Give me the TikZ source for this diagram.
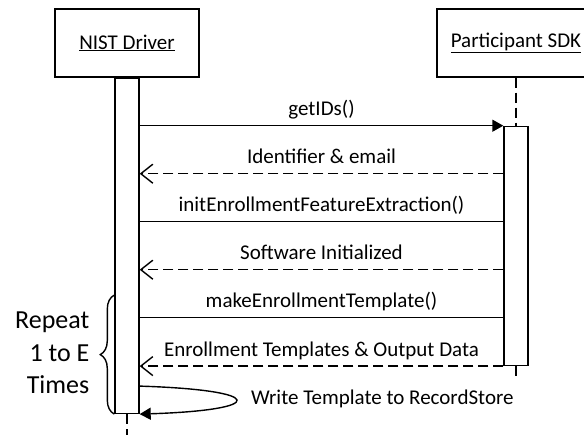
\documentclass[tikz,border=0pt]{standalone}
\usepackage{fontspec}
\setmainfont{Carlito}
\usetikzlibrary{positioning,arrows.meta,decorations.pathreplacing}

\begin{document}
\begin{tikzpicture}[x=1pt,y=-1pt,line width=1.4pt,
    font=\fontsize{21}{25}\selectfont,
    obj/.style={draw,minimum height=68pt,inner sep=0pt},
    bar/.style={draw,fill=white,minimum width=24pt,inner sep=0pt},
    life/.style={dash pattern=on 10pt off 5pt},
    call/.style={-{Triangle[length=11pt,width=12pt]}},
    ret/.style={dash pattern=on 10pt off 5pt,-{Straight Barb[length=12pt,width=19pt]}},
    msg/.style={anchor=base,yshift=10pt}]

    \useasboundingbox (0,0) rectangle (584,434);
    \clip (0,0) rectangle (584,434);

    % Objekte
    \node[obj, minimum width=144pt] (drv) at (127,43) {\underline{NIST Driver}};
    \node[obj, minimum width=158pt] (sdk) at (516,43) {\underline{Participant SDK}};
    \node[bar, minimum height=335pt, below=0pt of drv] (drvbar) {};
    \node[bar, minimum height=239pt, below=48pt of sdk] (sdkbar) {};

    % Lebenslinien
    \coordinate[below=22pt of drvbar] (drvend);
    \coordinate[below=10pt of sdkbar] (sdkend);
    \draw[life] (drvbar.south) -- (drvend);
    \draw[life] (sdk.south) -- (sdkbar.north);
    \draw[life] (sdkbar.south) -- (sdkend);

    % Nachrichten
    \coordinate (m1) at (drvbar.east |- sdkbar.north);
    \coordinate (m2) at ([yshift=-48pt]m1);
    \coordinate (m3) at ([yshift=-96pt]m1);
    \coordinate (m4) at ([yshift=-144pt]m1);
    \coordinate (m5) at ([yshift=-192pt]m1);
    \coordinate (m6) at (drvbar.east |- sdkbar.south);
    \coordinate (s1) at ([yshift=-20pt]m6);

    \draw[call] (m1) -- node[msg] {getIDs()} (m1 -| sdkbar.west);
    \draw[ret] (m2 -| sdkbar.west) -- node[msg] {Identifier \& email} (m2);
    \draw (m3) -- node[msg] {initEnrollmentFeatureExtraction()} (m3 -| sdkbar.west);
    \draw[ret] (m4 -| sdkbar.west) -- node[msg] {Software Initialized} (m4);
    \draw (m5) -- node[msg] {makeEnrollmentTemplate()} (m5 -| sdkbar.west);
    \draw[ret] (m6 -| sdkbar.west) -- node[msg] {Enrollment Templates \& Output Data} (m6);

    % Schleife
    \draw[call] (s1) .. controls +(128,4) and +(128,-4) .. (drvbar.south east);
    \node[anchor=base west] (write) at (247,404) {Write Template to RecordStore};

    \draw[decorate, decoration={brace, amplitude=14pt}]
        (drvbar.south west) -- ([yshift=119pt]drvbar.south west);
    \node[anchor=east, align=right, inner sep=0pt,
          font=\fontsize{26}{32.5}\selectfont] (rep) at (90,353) {Repeat\\1 to E\\Times};

\end{tikzpicture}
\end{document}
